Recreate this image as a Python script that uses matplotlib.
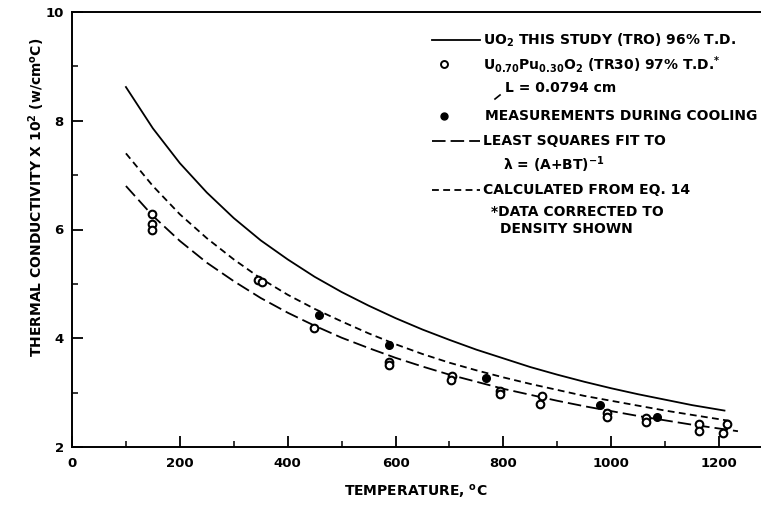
import matplotlib
matplotlib.use("Agg")
import matplotlib.pyplot as plt
from matplotlib.ticker import MultipleLocator

# ---- data ----
T_curve_uo2 = [100, 150, 200, 250, 300, 350, 400, 450, 500, 550, 600, 650, 700,
               750, 800, 850, 900, 950, 1000, 1050, 1100, 1150, 1210]
k_uo2 = [8.62, 7.86, 7.22, 6.68, 6.21, 5.80, 5.45, 5.13, 4.85, 4.60, 4.37, 4.16,
         3.97, 3.79, 3.63, 3.47, 3.33, 3.20, 3.08, 2.97, 2.87, 2.77, 2.67]

T_curve_calc = [100, 150, 200, 250, 300, 350, 400, 450, 500, 550, 600, 650, 700,
                750, 800, 850, 900, 950, 1000, 1050, 1100, 1150, 1220]
k_calc = [7.40, 6.80, 6.28, 5.84, 5.45, 5.10, 4.80, 4.54, 4.31, 4.09, 3.89, 3.71,
          3.55, 3.41, 3.28, 3.16, 3.05, 2.94, 2.85, 2.76, 2.67, 2.59, 2.48]

T_curve_fit = [100, 150, 200, 250, 300, 350, 400, 450, 500, 550, 600, 650, 700,
               750, 800, 850, 900, 950, 1000, 1050, 1100, 1150, 1200, 1235]
k_fit = [6.80, 6.25, 5.79, 5.39, 5.05, 4.74, 4.47, 4.23, 4.01, 3.82, 3.64, 3.48,
         3.33, 3.20, 3.07, 2.96, 2.85, 2.75, 2.66, 2.57, 2.49, 2.41, 2.34, 2.29]

T_open = [148, 148, 148, 345, 352, 448, 588, 588, 705, 702, 793, 793, 872, 868,
          992, 992, 1065, 1065, 1162, 1162, 1215, 1207]
k_open = [6.29, 6.10, 6.00, 5.07, 5.04, 4.18, 3.56, 3.50, 3.30, 3.24, 3.03, 2.97,
          2.93, 2.80, 2.62, 2.56, 2.53, 2.46, 2.42, 2.30, 2.42, 2.26]

T_cool = [458, 587, 767, 980, 1085]
k_cool = [4.43, 3.87, 3.26, 2.77, 2.56]

x_ticks = [0, 200, 400, 600, 800, 1000, 1200]
y_ticks = [2, 4, 6, 8, 10]

W, H = 761, 505
fig = plt.figure(figsize=(W / 100, H / 100), dpi=100)

def fx(px):
    return px / W

def fy(py):
    return 1 - py / H

FONT = "DejaVu Sans"
plt.rcParams["mathtext.default"] = "bf"
ax = fig.add_axes([fx(72), fy(447), 701 / W, 435 / H])
ax.set_xlim(0, 1300)
ax.set_ylim(2, 10)

lw = 1.3
ax.plot(T_curve_uo2, k_uo2, color="black", lw=lw)
ax.plot(T_curve_fit, k_fit, color="black", lw=lw, dashes=(7.5, 2.8))
ax.plot(T_curve_calc, k_calc, color="black", lw=lw, dashes=(3.8, 2.4))
ax.plot(T_open, k_open, ls="none", marker="o", ms=5.5, mfc="white", mec="black", mew=1.5)
ax.plot(T_cool, k_cool, ls="none", marker="o", ms=5.5, mfc="black", mec="black")

ax.set_xticks(x_ticks)
ax.set_yticks(y_ticks)
ax.xaxis.set_minor_locator(MultipleLocator(100))
ax.yaxis.set_minor_locator(MultipleLocator(1))
ax.tick_params(which="major", direction="in", length=8, width=1.3, top=False, right=False)
ax.tick_params(which="minor", direction="in", length=4.5, width=1.1, top=False, right=False)
ax.tick_params(axis="x", which="major", pad=7)
ax.tick_params(axis="y", which="major", pad=6)
for lab in ax.get_xticklabels() + ax.get_yticklabels():
    lab.set_fontfamily(FONT)
    lab.set_fontweight("bold")
    lab.set_fontsize(9.5)
for s in ["left", "bottom", "top"]:
    ax.spines[s].set_linewidth(1.4)
ax.spines["right"].set_visible(False)

# axis labels
fig.text(fx(37), fy(197), r"THERMAL CONDUCTIVITY X 10$^{2}$ (w/cm$^{o}$C)",
         rotation=90, ha="center", va="center", fontsize=10, family=FONT, weight="bold")
fig.text(fx(416), fy(491), r"TEMPERATURE, $^{o}$C",
         ha="center", va="center", fontsize=10, family=FONT, weight="bold")

# legend (manual)
def sample_line(py, **kw):
    ax.plot([fx(432), fx(480)], [fy(py), fy(py)], transform=fig.transFigure,
            clip_on=False, color="black", lw=lw, **kw)

def ltext(px, py, s):
    fig.text(fx(px), fy(py), s, ha="left", va="center", fontsize=10, family=FONT,
             weight="bold")

sample_line(40)
ltext(483, 40, r"UO$_{2}$ THIS STUDY (TRO) 96% T.D.")
ax.plot([fx(444)], [fy(64)], transform=fig.transFigure, clip_on=False, marker="o",
        ms=5, mfc="white", mec="black", mew=1.4)
ltext(483, 64, r"U$_{0.70}$Pu$_{0.30}$O$_{2}$ (TR30) 97% T.D.$^{*}$")
ltext(505, 88, "L = 0.0794 cm")
ax.plot([fx(495), fx(500)], [fy(99), fy(95)], transform=fig.transFigure, clip_on=False,
        color="black", lw=1.2)
ax.plot([fx(444)], [fy(116)], transform=fig.transFigure, clip_on=False, marker="o",
        ms=5, mfc="black", mec="black")
ltext(485, 116, "MEASUREMENTS DURING COOLING")
sample_line(141, dashes=(7.5, 2.8))
ltext(483, 141, "LEAST SQUARES FIT TO")
ltext(503, 165, r"λ = (A+BT)$^{-1}$")
sample_line(190, dashes=(3.8, 2.4))
ltext(483, 190, "CALCULATED FROM EQ. 14")
ltext(491, 212, "*DATA CORRECTED TO")
ltext(500, 229, "DENSITY SHOWN")

fig.savefig("out.png", dpi=100)
